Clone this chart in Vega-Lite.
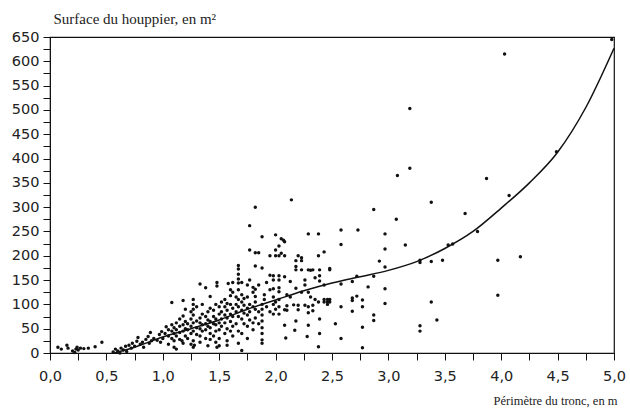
{
  "$schema": "https://vega.github.io/schema/vega-lite/v6.json",
  "autosize": {"type": "none"},
  "width": 564,
  "height": 316,
  "padding": {"left": 50, "top": 37, "right": 16, "bottom": 55},
  "background": "white",
  "config": {
    "view": {"stroke": "#111", "strokeWidth": 1.2},
    "axis": {"grid": false, "labelOverlap": false, "domainColor": "#111", "tickColor": "#111", "labelColor": "#222", "labelFont": "DejaVu Sans", "labelFontSize": 14.5, "titleColor": "#222", "titleFont": "Liberation Serif", "titleFontWeight": "normal"},
    "axisY": {"labelOverlap": false}
  },
  "datasets": {
    "pts": [
      {"p":0.07,"s":12},{"p":0.10,"s":8},{"p":0.15,"s":16},{"p":0.16,"s":10},{"p":0.20,"s":4},{"p":0.22,"s":1},{"p":0.23,"s":8},{"p":0.24,"s":12},{"p":0.25,"s":6},{"p":0.27,"s":10},{"p":0.30,"s":9},{"p":0.34,"s":10},{"p":0.40,"s":13},{"p":0.46,"s":22},
      {"p":0.56,"s":2},{"p":0.58,"s":8},{"p":0.60,"s":4},{"p":0.62,"s":0},{"p":0.63,"s":10},{"p":0.65,"s":6},{"p":0.67,"s":14},{"p":0.68,"s":3},{"p":0.70,"s":16},{"p":0.72,"s":10},{"p":0.73,"s":20},{"p":0.75,"s":14},{"p":0.77,"s":24},{"p":0.78,"s":32},{"p":0.80,"s":18},{"p":0.82,"s":22},{"p":0.83,"s":12},{"p":0.85,"s":28},{"p":0.87,"s":34},{"p":0.88,"s":20},{"p":0.89,"s":42},{"p":0.90,"s":25},{"p":0.92,"s":30},{"p":0.95,"s":26},{"p":0.97,"s":38},{"p":0.98,"s":22},{"p":0.99,"s":44},{"p":1.00,"s":30},{"p":1.02,"s":40},{"p":1.03,"s":54},{"p":1.05,"s":35},{"p":1.05,"s":18},
      {"p":1.05,"s":48},{"p":1.08,"s":104},{"p":1.08,"s":30},{"p":1.08,"s":45},{"p":1.08,"s":58},{"p":1.10,"s":25},{"p":1.10,"s":40},{"p":1.10,"s":52},{"p":1.10,"s":12},{"p":1.12,"s":35},{"p":1.12,"s":48},{"p":1.12,"s":62},{"p":1.12,"s":8},{"p":1.15,"s":28},{"p":1.15,"s":42},{"p":1.15,"s":55},{"p":1.15,"s":70},{"p":1.17,"s":25},
      {"p":1.18,"s":20},{"p":1.18,"s":45},{"p":1.18,"s":58},{"p":1.18,"s":76},{"p":1.18,"s":108},{"p":1.20,"s":35},{"p":1.20,"s":50},{"p":1.20,"s":65},{"p":1.20,"s":90},{"p":1.22,"s":30},{"p":1.22,"s":48},{"p":1.22,"s":60},
      {"p":1.25,"s":40},{"p":1.25,"s":55},{"p":1.25,"s":70},{"p":1.25,"s":85},{"p":1.25,"s":18},{"p":1.27,"s":25},{"p":1.27,"s":45},{"p":1.27,"s":62},{"p":1.27,"s":78},{"p":1.27,"s":90},{"p":1.27,"s":100},{"p":1.27,"s":110},{"p":1.27,"s":12},{"p":1.28,"s":16},
      {"p":1.30,"s":38},{"p":1.30,"s":52},{"p":1.30,"s":66},{"p":1.30,"s":95},{"p":1.33,"s":22},{"p":1.33,"s":35},{"p":1.33,"s":50},{"p":1.33,"s":62},{"p":1.33,"s":72},{"p":1.33,"s":142},
      {"p":1.35,"s":45},{"p":1.35,"s":58},{"p":1.35,"s":80},{"p":1.35,"s":100},{"p":1.38,"s":30},{"p":1.38,"s":48},{"p":1.38,"s":60},{"p":1.38,"s":75},{"p":1.38,"s":134},
      {"p":1.40,"s":55},{"p":1.40,"s":68},{"p":1.40,"s":85},{"p":1.40,"s":15},{"p":1.42,"s":28},{"p":1.42,"s":40},{"p":1.42,"s":52},{"p":1.42,"s":65},{"p":1.42,"s":116},{"p":1.42,"s":92},
      {"p":1.45,"s":35},{"p":1.45,"s":60},{"p":1.45,"s":75},{"p":1.45,"s":88},{"p":1.47,"s":22},{"p":1.47,"s":45},{"p":1.47,"s":58},{"p":1.47,"s":70},{"p":1.47,"s":100},{"p":1.48,"s":138},{"p":1.48,"s":145},{"p":1.48,"s":12},
      {"p":1.50,"s":15},{"p":1.50,"s":30},{"p":1.50,"s":48},{"p":1.50,"s":62},{"p":1.50,"s":80},{"p":1.50,"s":95},{"p":1.52,"s":55},{"p":1.52,"s":70},{"p":1.52,"s":85},{"p":1.52,"s":105},
      {"p":1.55,"s":40},{"p":1.55,"s":62},{"p":1.55,"s":78},{"p":1.55,"s":95},{"p":1.55,"s":110},{"p":1.57,"s":25},{"p":1.57,"s":50},{"p":1.57,"s":72},{"p":1.57,"s":88},{"p":1.57,"s":102},{"p":1.57,"s":16},{"p":1.58,"s":143},
      {"p":1.60,"s":45},{"p":1.60,"s":65},{"p":1.60,"s":80},{"p":1.60,"s":100},{"p":1.60,"s":118},{"p":1.60,"s":130},{"p":1.62,"s":35},{"p":1.62,"s":55},{"p":1.62,"s":75},{"p":1.62,"s":92},{"p":1.62,"s":125},{"p":1.62,"s":145},
      {"p":1.65,"s":60},{"p":1.65,"s":85},{"p":1.65,"s":100},{"p":1.65,"s":115},{"p":1.67,"s":20},{"p":1.67,"s":45},{"p":1.67,"s":75},{"p":1.67,"s":95},{"p":1.67,"s":110},{"p":1.67,"s":130},{"p":1.67,"s":144},{"p":1.67,"s":152},{"p":1.67,"s":162},{"p":1.67,"s":173},{"p":1.67,"s":180},
      {"p":1.70,"s":5},{"p":1.70,"s":40},{"p":1.70,"s":70},{"p":1.70,"s":88},{"p":1.70,"s":105},{"p":1.70,"s":120},{"p":1.70,"s":145},{"p":1.72,"s":60},{"p":1.72,"s":82},{"p":1.72,"s":98},{"p":1.72,"s":112},
      {"p":1.75,"s":30},{"p":1.75,"s":55},{"p":1.75,"s":78},{"p":1.75,"s":92},{"p":1.75,"s":115},{"p":1.75,"s":140},{"p":1.77,"s":68},{"p":1.77,"s":85},{"p":1.77,"s":100},{"p":1.77,"s":150},{"p":1.77,"s":212},{"p":1.77,"s":262},
      {"p":1.80,"s":48},{"p":1.80,"s":62},{"p":1.80,"s":95},{"p":1.80,"s":125},{"p":1.80,"s":135},{"p":1.82,"s":72},{"p":1.82,"s":90},{"p":1.82,"s":105},{"p":1.82,"s":116},{"p":1.82,"s":131},{"p":1.82,"s":179},{"p":1.82,"s":206},{"p":1.82,"s":300},
      {"p":1.85,"s":60},{"p":1.85,"s":85},{"p":1.85,"s":206},{"p":1.85,"s":140},{"p":1.88,"s":20},{"p":1.88,"s":27},{"p":1.88,"s":40},{"p":1.88,"s":52},{"p":1.88,"s":66},{"p":1.88,"s":78},{"p":1.88,"s":90},{"p":1.88,"s":100},{"p":1.88,"s":175},{"p":1.88,"s":239},
      {"p":1.90,"s":110},{"p":1.90,"s":120},{"p":1.92,"s":95},{"p":1.92,"s":145},{"p":1.95,"s":85},{"p":1.95,"s":130},{"p":1.95,"s":160},{"p":1.95,"s":200},
      {"p":1.98,"s":80},{"p":1.98,"s":100},{"p":1.98,"s":115},{"p":1.98,"s":132},{"p":1.98,"s":150},{"p":1.98,"s":159},{"p":2.00,"s":90},{"p":2.00,"s":105},{"p":2.00,"s":212},{"p":2.00,"s":243},{"p":2.00,"s":200},
      {"p":2.03,"s":80},{"p":2.03,"s":95},{"p":2.03,"s":110},{"p":2.03,"s":126},{"p":2.03,"s":134},{"p":2.03,"s":150},{"p":2.03,"s":159},{"p":2.03,"s":220},{"p":2.03,"s":200},{"p":2.05,"s":235},{"p":2.05,"s":205},{"p":2.07,"s":232},
      {"p":2.08,"s":57},{"p":2.08,"s":89},{"p":2.08,"s":157},{"p":2.08,"s":229},{"p":2.08,"s":200},{"p":2.09,"s":31},{"p":2.10,"s":88},{"p":2.10,"s":97},{"p":2.10,"s":120},{"p":2.13,"s":115},{"p":2.13,"s":147},{"p":2.14,"s":315},{"p":2.16,"s":99},{"p":2.17,"s":47},
      {"p":2.18,"s":66},{"p":2.18,"s":133},{"p":2.18,"s":171},{"p":2.18,"s":178},{"p":2.18,"s":190},{"p":2.20,"s":89},{"p":2.20,"s":98},{"p":2.20,"s":200},{"p":2.23,"s":125},{"p":2.23,"s":171},{"p":2.23,"s":190},{"p":2.23,"s":196},
      {"p":2.26,"s":98},{"p":2.26,"s":140},{"p":2.26,"s":150},{"p":2.28,"s":34},{"p":2.29,"s":57},{"p":2.29,"s":83},{"p":2.29,"s":95},{"p":2.29,"s":125},{"p":2.29,"s":171},{"p":2.29,"s":245},{"p":2.31,"s":115},{"p":2.31,"s":170},
      {"p":2.33,"s":87},{"p":2.33,"s":98},{"p":2.33,"s":171},{"p":2.35,"s":110},{"p":2.35,"s":155},{"p":2.38,"s":13},{"p":2.38,"s":200},{"p":2.38,"s":245},{"p":2.38,"s":105},{"p":2.39,"s":40},{"p":2.39,"s":70},{"p":2.39,"s":148},{"p":2.39,"s":159},{"p":2.39,"s":171},
      {"p":2.43,"s":105},{"p":2.43,"s":110},{"p":2.43,"s":208},{"p":2.43,"s":140},{"p":2.46,"s":100},{"p":2.46,"s":105},{"p":2.46,"s":110},{"p":2.48,"s":171},{"p":2.48,"s":174},{"p":2.48,"s":110},{"p":2.48,"s":105},
      {"p":2.53,"s":60},{"p":2.58,"s":30},{"p":2.58,"s":95},{"p":2.58,"s":142},{"p":2.58,"s":223},{"p":2.58,"s":253},{"p":2.68,"s":86},{"p":2.68,"s":108},{"p":2.68,"s":113},{"p":2.68,"s":147},{"p":2.72,"s":117},{"p":2.72,"s":158},{"p":2.73,"s":253},
      {"p":2.77,"s":11},{"p":2.77,"s":53},{"p":2.77,"s":95},{"p":2.77,"s":109},{"p":2.82,"s":136},{"p":2.87,"s":67},{"p":2.87,"s":78},{"p":2.87,"s":158},{"p":2.87,"s":295},{"p":2.92,"s":189},
      {"p":2.97,"s":102},{"p":2.97,"s":132},{"p":2.97,"s":177},{"p":2.97,"s":214},{"p":2.97,"s":245},{"p":3.07,"s":275},{"p":3.08,"s":365},{"p":3.15,"s":222},{"p":3.19,"s":380},{"p":3.19,"s":503},
      {"p":3.28,"s":45},{"p":3.28,"s":56},{"p":3.28,"s":186},{"p":3.28,"s":191},{"p":3.38,"s":105},{"p":3.38,"s":188},{"p":3.38,"s":310},{"p":3.43,"s":68},{"p":3.48,"s":191},{"p":3.53,"s":222},{"p":3.57,"s":224},
      {"p":3.68,"s":287},{"p":3.79,"s":250},{"p":3.87,"s":359},{"p":3.97,"s":119},{"p":3.97,"s":191},{"p":4.03,"s":615},{"p":4.07,"s":324},{"p":4.17,"s":198},{"p":4.49,"s":414},{"p":4.98,"s":645}
    ],
    "fit": [
      {"p":0.57,"s":0},{"p":0.75,"s":12},{"p":1.0,"s":33},{"p":1.25,"s":50},{"p":1.5,"s":68},{"p":1.75,"s":90},{"p":2.0,"s":109},{"p":2.25,"s":128},{"p":2.5,"s":144},{"p":2.75,"s":157},{"p":3.0,"s":170},{"p":3.25,"s":188},{"p":3.5,"s":215},{"p":3.75,"s":250},{"p":4.0,"s":298},{"p":4.25,"s":350},{"p":4.5,"s":413},{"p":4.75,"s":505},{"p":5.0,"s":627}
    ]
  },
  "encoding": {
    "x": {"field": "p", "type": "quantitative", "scale": {"domain": [0, 5], "nice": false},
      "axis": {"values": [0,0.25,0.5,0.75,1,1.25,1.5,1.75,2,2.25,2.5,2.75,3,3.25,3.5,3.75,4,4.25,4.5,4.75,5],
        "labelExpr": "(datum.value*2) % 1 == 0 ? replace(format(datum.value, '.1f'), '.', ',') : ''",
        "labelOverlap": false, "labelFlush": false, "tickSize": 7, "labelPadding": 9,
        "title": "Périmètre du tronc, en m", "titleFontSize": 12.5, "titleAlign": "right", "titleBaseline": "middle", "titleX": 567, "titleY": 47}},
    "y": {"field": "s", "type": "quantitative", "scale": {"domain": [0, 650], "nice": false},
      "axis": {"values": [0,25,50,75,100,125,150,175,200,225,250,275,300,325,350,375,400,425,450,475,500,525,550,575,600,625,650],
        "labelExpr": "datum.value % 50 == 0 ? format(datum.value, 'd') : ''",
        "labelOverlap": false, "labelFlush": false, "labelBound": false, "tickSize": 7, "labelPadding": 4,
        "title": "Surface du houppier, en m²", "titleFontSize": 15, "titleAngle": 0, "titleAlign": "left", "titleBaseline": "middle", "titleX": 3, "titleY": -19}}
  },
  "layer": [
    {
      "data": {"name": "pts"},
      "mark": {"type": "point", "filled": true, "shape": "circle", "size": 12, "color": "#111", "opacity": 1}
    },
    {
      "data": {"name": "fit"},
      "mark": {"type": "line", "color": "#111", "strokeWidth": 1.5, "interpolate": "monotone"}
    }
  ]
}
